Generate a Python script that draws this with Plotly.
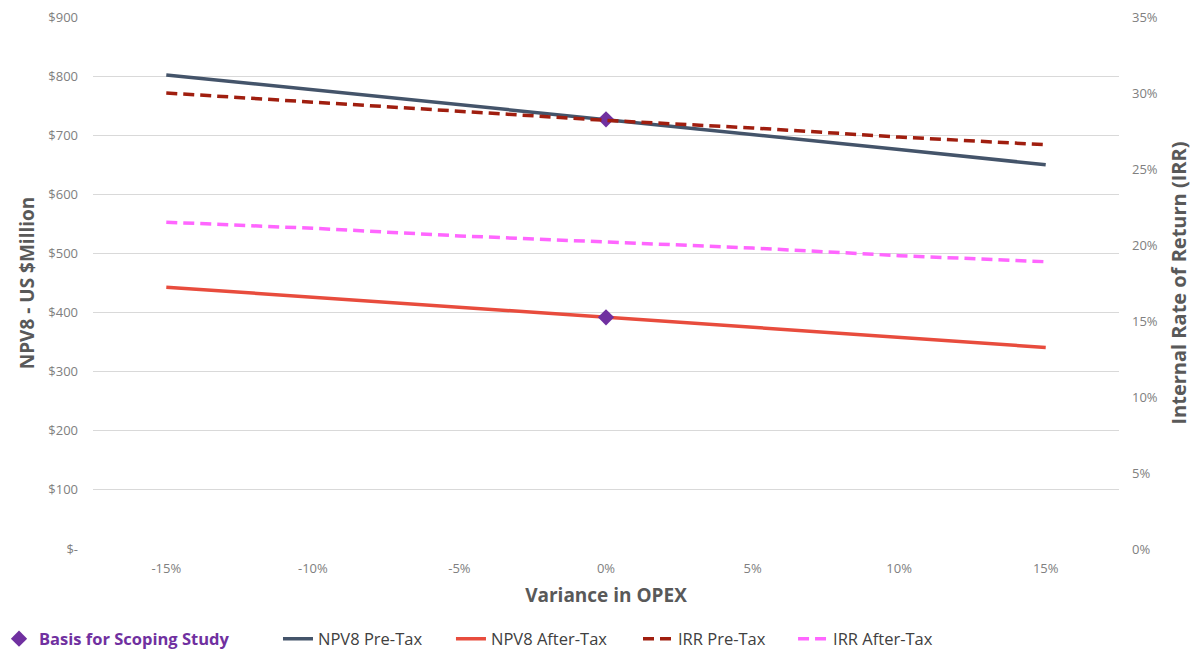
import plotly.graph_objects as go

categories = ["-15%", "-10%", "-5%", "0%", "5%", "10%", "15%"]
npv_pre_tax = [802, 777, 752, 727, 701, 676, 650]
npv_after_tax = [443, 426, 409, 392, 375, 358, 341]
irr_pre_tax = [30.0, 29.4, 28.8, 28.2, 27.7, 27.1, 26.6]
irr_after_tax = [21.5, 21.1, 20.6, 20.2, 19.8, 19.3, 18.9]
basis_x = ["0%", "0%"]
basis_y = [727, 392]

left_tickvals = [0, 100, 200, 300, 400, 500, 600, 700, 800, 900]
left_ticktext = ["$-", "$100", "$200", "$300", "$400", "$500", "$600", "$700", "$800", "$900"]
right_tickvals = [0, 5, 10, 15, 20, 25, 30, 35]
right_ticktext = ["0%", "5%", "10%", "15%", "20%", "25%", "30%", "35%"]

GRAY_TXT = "#808080"
TITLE_TXT = "#595959"
LEG_TXT = "#404040"
FONT = "Open Sans"

fig = go.Figure()
fig.add_trace(go.Scatter(x=categories, y=npv_pre_tax, name="NPV8 Pre-Tax", mode="lines",
                         line=dict(color="#44546A", width=3.5), legend="legend2", showlegend=True))
fig.add_trace(go.Scatter(x=categories, y=npv_after_tax, name="NPV8 After-Tax", mode="lines",
                         line=dict(color="#E84C3D", width=3.5), legend="legend3", showlegend=True))
fig.add_trace(go.Scatter(x=categories, y=irr_pre_tax, name="IRR Pre-Tax", mode="lines",
                         line=dict(color="#A01E0F", width=3.5, dash="11px,6px"),
                         yaxis="y2", legend="legend4", showlegend=True))
fig.add_trace(go.Scatter(x=categories, y=irr_after_tax, name="IRR After-Tax", mode="lines",
                         line=dict(color="#FF66FF", width=3.5, dash="11px,6px"),
                         yaxis="y2", legend="legend5", showlegend=True))
fig.add_trace(go.Scatter(x=basis_x, y=basis_y, name="<b>Basis for Scoping Study</b>", mode="markers",
                         marker=dict(symbol="diamond", size=12.5, color="#7030A0"),
                         legend="legend", showlegend=True))


def leg(xpos, color, size):
    return dict(orientation="h", x=xpos, xanchor="left", y=-0.169, yanchor="middle",
                font=dict(size=size, color=color, family=FONT),
                bgcolor="rgba(0,0,0,0)")


fig.update_layout(
    width=1199, height=653,
    showlegend=True,
    margin=dict(l=93, r=80, t=17, b=104, autoexpand=False),
    paper_bgcolor="white", plot_bgcolor="white",
    font=dict(family=FONT, color=GRAY_TXT, size=13),
    xaxis=dict(type="category", range=[-0.5, 6.5], showgrid=False, showline=False,
               zeroline=False, ticks="", ticklabelstandoff=10,
               tickfont=dict(size=13, color=GRAY_TXT),
               title=dict(text="<b>Variance in OPEX</b>", font=dict(size=19, color=TITLE_TXT),
                          standoff=12)),
    yaxis=dict(range=[0, 900], tickvals=left_tickvals, ticktext=left_ticktext,
               showgrid=True, gridcolor="#D9D9D9", gridwidth=1, zeroline=False,
               showline=False, ticks="", ticklabelstandoff=14,
               tickfont=dict(size=13, color=GRAY_TXT),
               title=dict(text="<b>NPV8 - US $Million</b>", font=dict(size=19, color=TITLE_TXT),
                          standoff=8)),
    yaxis2=dict(range=[0, 35], tickvals=right_tickvals, ticktext=right_ticktext,
                overlaying="y", side="right", showgrid=False, zeroline=False,
                showline=False, ticks="", ticklabelstandoff=12,
                tickfont=dict(size=13, color=GRAY_TXT),
                title=dict(text="<b>Internal Rate of Return (IRR)</b>",
                           font=dict(size=20, color=TITLE_TXT), standoff=15)),
    legend=leg(-0.0916, "#7030A0", 16.5),
    legend2=leg(0.1803, LEG_TXT, 16.5),
    legend3=leg(0.3489, LEG_TXT, 16.5),
    legend4=leg(0.5312, LEG_TXT, 16.5),
    legend5=leg(0.6823, LEG_TXT, 16.5),
)

fig.write_html("out.html")
